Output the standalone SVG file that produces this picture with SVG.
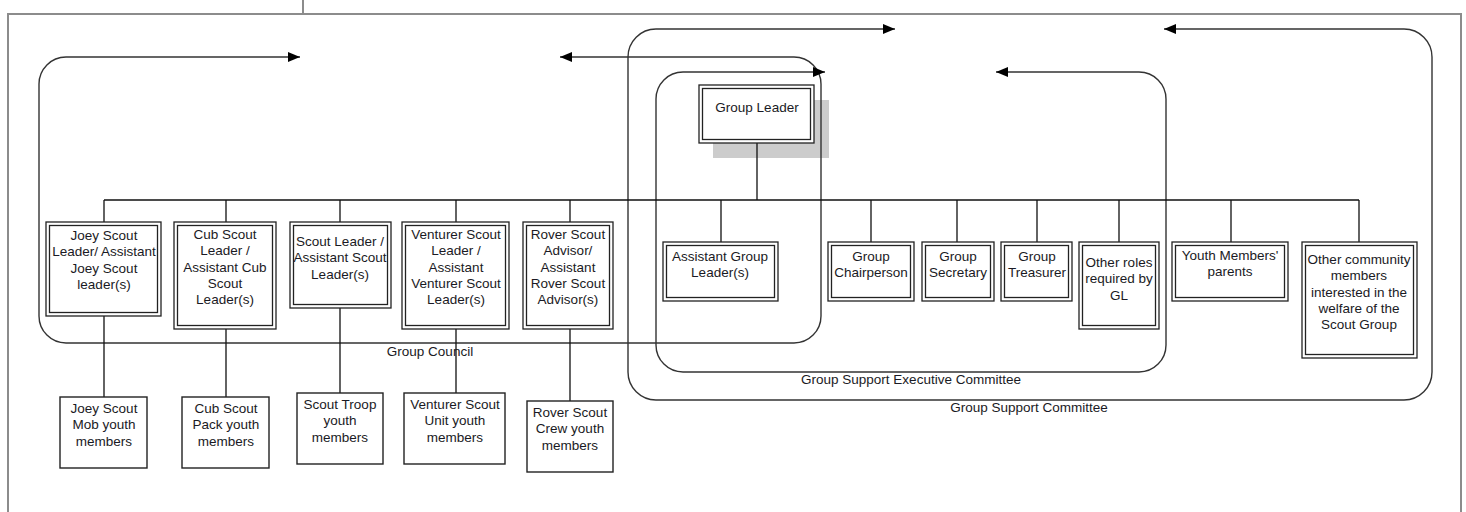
<svg xmlns="http://www.w3.org/2000/svg" width="1466" height="512" viewBox="0 0 1466 512">
<style>
.page{fill:none;stroke:#8c8c8c;stroke-width:2}
.grp{fill:none;stroke:#333;stroke-width:1.4}
.con{fill:none;stroke:#111;stroke-width:1.3}
.ob{fill:#fff;stroke:#222;stroke-width:1.3}
.ib{fill:none;stroke:#222;stroke-width:1.3}
.sb{fill:#fff;stroke:#222;stroke-width:1.4}
text{font-family:"Liberation Sans",Arial,sans-serif;font-size:13.5px;fill:#1a1a24;text-anchor:middle}
</style>
<defs>
<marker id="ar" viewBox="0 0 12 10" refX="12" refY="5" markerWidth="12" markerHeight="10" markerUnits="userSpaceOnUse" orient="auto-start-reverse">
<path d="M0,0 L12,5 L0,10 Z" fill="#000"/>
</marker>
</defs>
<rect width="1466" height="512" fill="#fff"/>
<g id="page">
<path class="page" d="M8,512 L8,14 L1461,14 L1461,512"/>
<path class="page" d="M303,0 L303,14"/>
</g>
<rect id="gl-shadow" x="713" y="100" width="116" height="58" fill="#cccccc"/>
<g id="groups">
<path class="grp" marker-start="url(#ar)" marker-end="url(#ar)" d="M560,57 L794,57 A27,27 0 0 1 821,84 L821,316 A27,27 0 0 1 794,343 L66,343 A27,27 0 0 1 39,316 L39,84 A27,27 0 0 1 66,57 L300,57"/>
<path class="grp" marker-start="url(#ar)" marker-end="url(#ar)" d="M996,72 L1139,72 A27,27 0 0 1 1166,99 L1166,345 A27,27 0 0 1 1139,372 L683,372 A27,27 0 0 1 656,345 L656,99 A27,27 0 0 1 683,72 L825,72"/>
<path class="grp" marker-start="url(#ar)" marker-end="url(#ar)" d="M1164,29 L1404,29 A28,28 0 0 1 1432,57 L1432,372 A28,28 0 0 1 1404,400 L656,400 A28,28 0 0 1 628,372 L628,57 A28,28 0 0 1 656,29 L895,29"/>
<text x="430" y="356">Group Council</text>
<text x="911" y="384">Group Support Executive Committee</text>
<text x="1029" y="412">Group Support Committee</text>
</g>
<g id="connectors">
<path class="con" d="M757,143 L757,200 M104,200 L1359,200"/>
<path class="con" d="M104,200 L104,222 M226,200 L226,222 M340,200 L340,222 M456,200 L456,222 M570,200 L570,222"/>
<path class="con" d="M721,200 L721,242 M871,200 L871,242 M957,200 L957,242 M1037,200 L1037,242 M1119,200 L1119,242 M1231,200 L1231,242 M1359,200 L1359,242"/>
<path class="con" d="M104,316 L104,397 M226,329 L226,397 M340,308 L340,393 M456,329 L456,393 M570,329 L570,401"/>
</g>
<g id="n-gl"><rect class="ob" x="699" y="85" width="115" height="58"/><rect class="ib" x="702.5" y="88.5" width="108" height="51"/><text x="757" y="112">Group Leader</text></g>
<g id="n-joey"><rect class="ob" x="46" y="222" width="115" height="94"/><rect class="ib" x="49.5" y="225.5" width="108" height="87"/><text x="104" y="240">Joey Scout<tspan x="104" dy="16.3">Leader/ Assistant</tspan><tspan x="104" dy="16.3">Joey Scout</tspan><tspan x="104" dy="16.3">leader(s)</tspan></text></g>
<g id="n-cub"><rect class="ob" x="174" y="222" width="102" height="107"/><rect class="ib" x="177.5" y="225.5" width="95" height="100"/><text x="225" y="239">Cub Scout<tspan x="225" dy="16.3">Leader /</tspan><tspan x="225" dy="16.3">Assistant Cub</tspan><tspan x="225" dy="16.3">Scout</tspan><tspan x="225" dy="16.3">Leader(s)</tspan></text></g>
<g id="n-scout"><rect class="ob" x="290" y="222" width="101" height="86"/><rect class="ib" x="293.5" y="225.5" width="94" height="79"/><text x="340" y="246">Scout Leader /<tspan x="340" dy="16.3">Assistant Scout</tspan><tspan x="340" dy="16.3">Leader(s)</tspan></text></g>
<g id="n-venturer"><rect class="ob" x="402" y="222" width="107" height="107"/><rect class="ib" x="405.5" y="225.5" width="100" height="100"/><text x="456" y="239">Venturer Scout<tspan x="456" dy="16.3">Leader /</tspan><tspan x="456" dy="16.3">Assistant</tspan><tspan x="456" dy="16.3">Venturer Scout</tspan><tspan x="456" dy="16.3">Leader(s)</tspan></text></g>
<g id="n-rover"><rect class="ob" x="523" y="222" width="90" height="107"/><rect class="ib" x="526.5" y="225.5" width="83" height="100"/><text x="568" y="239">Rover Scout<tspan x="568" dy="16.3">Advisor/</tspan><tspan x="568" dy="16.3">Assistant</tspan><tspan x="568" dy="16.3">Rover Scout</tspan><tspan x="568" dy="16.3">Advisor(s)</tspan></text></g>
<g id="n-agl"><rect class="ob" x="663" y="242" width="115" height="59"/><rect class="ib" x="666.5" y="245.5" width="108" height="52"/><text x="720" y="261">Assistant Group<tspan x="720" dy="16.3">Leader(s)</tspan></text></g>
<g id="n-chair"><rect class="ob" x="828" y="242" width="86" height="59"/><rect class="ib" x="831.5" y="245.5" width="79" height="52"/><text x="871" y="261">Group<tspan x="871" dy="16.3">Chairperson</tspan></text></g>
<g id="n-sec"><rect class="ob" x="922" y="242" width="72" height="59"/><rect class="ib" x="925.5" y="245.5" width="65" height="52"/><text x="958" y="261">Group<tspan x="958" dy="16.3">Secretary</tspan></text></g>
<g id="n-treas"><rect class="ob" x="1001" y="242" width="71" height="59"/><rect class="ib" x="1004.5" y="245.5" width="64" height="52"/><text x="1037" y="261">Group<tspan x="1037" dy="16.3">Treasurer</tspan></text></g>
<g id="n-other"><rect class="ob" x="1079" y="242" width="80" height="87"/><rect class="ib" x="1082.5" y="245.5" width="73" height="80"/><text x="1119" y="267">Other roles<tspan x="1119" dy="16.3">required by</tspan><tspan x="1119" dy="16.3">GL</tspan></text></g>
<g id="n-parents"><rect class="ob" x="1172" y="242" width="116" height="59"/><rect class="ib" x="1175.5" y="245.5" width="109" height="52"/><text x="1230" y="260">Youth Members'<tspan x="1230" dy="16.3">parents</tspan></text></g>
<g id="n-community"><rect class="ob" x="1302" y="242" width="115" height="116"/><rect class="ib" x="1305.5" y="245.5" width="108" height="109"/><text x="1359" y="264">Other community<tspan x="1359" dy="16.3">members</tspan><tspan x="1359" dy="16.3">interested in the</tspan><tspan x="1359" dy="16.3">welfare of the</tspan><tspan x="1359" dy="16.3">Scout Group</tspan></text></g>
<g id="n-joey-y"><rect class="sb" x="60" y="397" width="87" height="71"/><text x="104" y="413">Joey Scout<tspan x="104" dy="16.3">Mob youth</tspan><tspan x="104" dy="16.3">members</tspan></text></g>
<g id="n-cub-y"><rect class="sb" x="182" y="397" width="87" height="71"/><text x="226" y="413">Cub Scout<tspan x="226" dy="16.3">Pack youth</tspan><tspan x="226" dy="16.3">members</tspan></text></g>
<g id="n-scout-y"><rect class="sb" x="297" y="393" width="86" height="71"/><text x="340" y="409">Scout Troop<tspan x="340" dy="16.3">youth</tspan><tspan x="340" dy="16.3">members</tspan></text></g>
<g id="n-venturer-y"><rect class="sb" x="404" y="393" width="101" height="71"/><text x="455" y="409">Venturer Scout<tspan x="455" dy="16.3">Unit youth</tspan><tspan x="455" dy="16.3">members</tspan></text></g>
<g id="n-rover-y"><rect class="sb" x="527" y="401" width="86" height="71"/><text x="570" y="417">Rover Scout<tspan x="570" dy="16.3">Crew youth</tspan><tspan x="570" dy="16.3">members</tspan></text></g>
</svg>
